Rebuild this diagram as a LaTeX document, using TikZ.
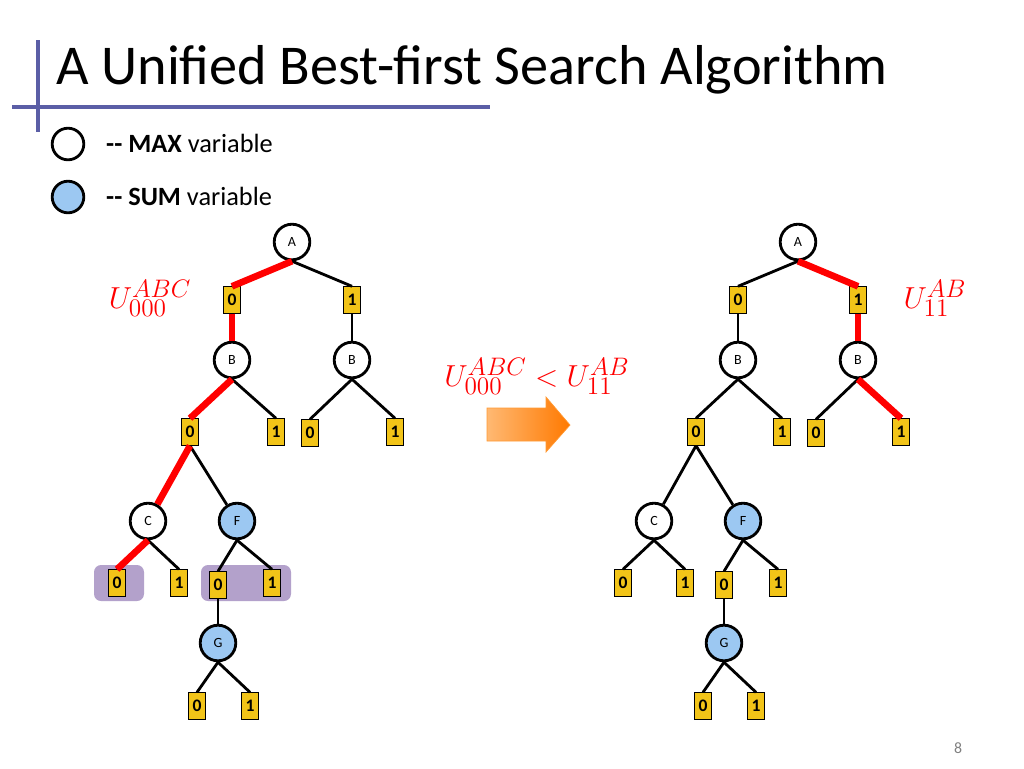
\documentclass[tikz,border=0pt]{standalone}
\usepackage{fontspec}
\setmainfont{Carlito}
\usetikzlibrary{shadings}
\definecolor{varblue}{HTML}{9CC8F2}
\definecolor{valyellow}{HTML}{F2C418}
\definecolor{hilite}{HTML}{B3A1CB}
\definecolor{barblue}{HTML}{5B5EA6}
\tikzset{
  var/.style={circle,draw,line width=1.6pt,minimum size=27pt*0.75,inner sep=0pt,font=\fontsize{8}{8}\selectfont},
  sumvar/.style={var,fill=varblue},
  val/.style={rectangle,draw,fill=valyellow,line width=0.6pt,inner sep=1pt,minimum width=10pt,minimum height=15pt,font=\bfseries\fontsize{10}{10}\selectfont},
  arc/.style={line width=1.6pt},
  hot/.style={line width=3.8pt,red},
  bound/.style={red,font=\fontsize{19}{19}\selectfont}
}
\begin{document}
\begin{tikzpicture}[x=0.02cm,y=-0.02cm]
    \useasboundingbox (0,0) rectangle (1024,768);
    % title and bars
    \draw[barblue,line width=2.5pt] (12,107) -- (490,107);
    \draw[barblue,line width=2.5pt] (38,40) -- (38,132);
    \node[anchor=west,font=\fontsize{32}{32}\selectfont] (title) at (50,70) {A Unified Best-first Search Algorithm};
    % legend
    \node[var,minimum size=18pt] (lmax) at (68,144) {};
    \node[sumvar,minimum size=18pt] (lsum) at (68,197) {};
    \node[anchor=west,font=\fontsize{15}{15}\selectfont] (tmax) at (100,143) {\textbf{{-}{-} MAX} variable};
    \node[anchor=west,font=\fontsize{15}{15}\selectfont] (tsum) at (100,196) {\textbf{{-}{-} SUM} variable};
    % highlights
    \fill[hilite,rounded corners=4pt] (94,565) rectangle (144,601);
    \fill[hilite,rounded corners=4pt] (201,565) rectangle (291,601);
    % two trees
    \foreach \t/\dx in {l/0,r/506} {
      \begin{scope}[xshift=\dx*0.02cm]
        \node[var] (\t A) at (292,242) {A};
        \node[val] (\t a0) at (232,300) {0};
        \node[val] (\t a1) at (352,300) {1};
        \node[var] (\t B0) at (232,360) {B};
        \node[var] (\t B1) at (352,360) {B};
        \node[val] (\t b00) at (190,432) {0};
        \node[val] (\t b01) at (276,432) {1};
        \node[val] (\t b10) at (310,433) {0};
        \node[val] (\t b11) at (395,432) {1};
        \node[var] (\t C) at (148,521) {C};
        \node[sumvar] (\t F) at (237,521) {F};
        \node[val] (\t c0) at (117,583) {0};
        \node[val] (\t c1) at (179,583) {1};
        \node[val] (\t f0) at (218,585) {0};
        \node[val] (\t f1) at (272,583) {1};
        \node[sumvar] (\t G) at (218,643) {G};
        \node[val] (\t g0) at (197,706) {0};
        \node[val] (\t g1) at (250,706) {1};
      \end{scope}
      \draw[arc] (\t A.south) -- (\t a0.north);
      \draw[arc] (\t A.south) -- (\t a1.north);
      \draw[arc] (\t a0) -- (\t B0);
      \draw[arc] (\t a1) -- (\t B1);
      \draw[arc] (\t B0.south) -- (\t b00.north);
      \draw[arc] (\t B0.south) -- (\t b01.north);
      \draw[arc] (\t B1.south) -- (\t b10.north);
      \draw[arc] (\t B1.south) -- (\t b11.north);
      \draw[arc] (\t b00.south) -- (\t C);
      \draw[arc] (\t b00.south) -- (\t F);
      \draw[arc] (\t C.south) -- (\t c0.north);
      \draw[arc] (\t C.south) -- (\t c1.north);
      \draw[arc] (\t F.south) -- (\t f0.north);
      \draw[arc] (\t F.south) -- (\t f1.north);
      \draw[arc] (\t f0) -- (\t G);
      \draw[arc] (\t G.south) -- (\t g0.north);
      \draw[arc] (\t G.south) -- (\t g1.north);
    }
    % best partial solution paths
    \draw[hot] (lA.south) -- (la0.north);
    \draw[hot] (la0) -- (lB0);
    \draw[hot] (lB0.south) -- (lb00.north);
    \draw[hot] (lb00.south) -- (lC);
    \draw[hot] (lC.south) -- (lc0.north);
    \draw[hot] (rA.south) -- (ra1.north);
    \draw[hot] (ra1) -- (rB1);
    \draw[hot] (rB1.south) -- (rb11.north);
    % bounds
    \node[bound] (uleft) at (150,298) {$U^{ABC}_{000}$};
    \node[bound] (uright) at (935,298) {$U^{AB}_{11}$};
    \node[bound] (ucmp) at (537,376) {$U^{ABC}_{000} < U^{AB}_{11}$};
    % arrow
    \shade[left color=orange!55,right color=orange!95!red,draw=orange!80,line width=0.4pt]
      (487,408) -- (546,408) -- (546,397) -- (570,425) -- (546,452) -- (546,441) -- (487,441) -- cycle;
    \node[gray,font=\small] (page) at (958,748) {8};
\end{tikzpicture}
\end{document}
